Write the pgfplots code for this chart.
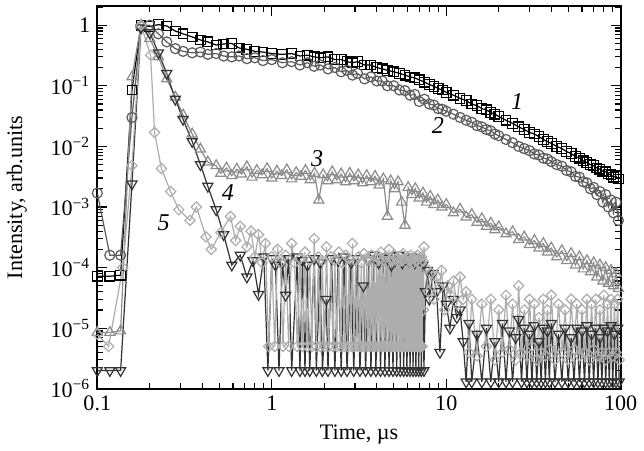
\documentclass[border=0pt]{standalone}
\usepackage{fontspec}
\setmainfont{Liberation Serif}
\usepackage{pgfplots}
\usepackage{pgfplotstable}
\pgfplotsset{compat=1.18}

\definecolor{cA}{gray}{0.0}
\definecolor{cB}{gray}{0.36}
\definecolor{cC}{gray}{0.55}
\definecolor{cD}{gray}{0.2}
\definecolor{cE}{gray}{0.68}

% curve 1 (squares)
\pgfplotstableread{
x y
0.100 7.2e-5
0.118 7.2e-5
0.136 7.5e-5
0.158 0.085
0.178 1.0
0.200 0.95
0.224 1.02
0.250 0.97
0.280 0.80
0.310 0.72
0.350 0.64
0.390 0.57
0.430 0.53
0.480 0.47
0.530 0.49
0.590 0.50
0.650 0.42
0.720 0.40
0.800 0.37
0.890 0.36
1.00 0.34
1.15 0.33
1.30 0.34
1.45 0.31
1.60 0.32
1.75 0.30
1.90 0.29
2.10 0.30
2.30 0.27
2.50 0.27
2.70 0.25
2.90 0.24
3.10 0.25
3.40 0.22
3.70 0.22
4.00 0.20
4.30 0.19
4.60 0.18
5.00 0.17
5.40 0.16
5.80 0.15
6.20 0.14
6.60 0.135
7.00 0.125
7.50 0.115
8.00 0.105
8.50 0.098
9.00 0.090
9.50 0.085
10 0.078
11 0.070
12 0.062
13 0.057
14 0.050
15 0.047
16 0.042
17 0.040
18 0.036
19 0.034
20 0.031
22 0.027
24 0.024
26 0.021
28 0.019
30 0.017
32 0.016
34 0.0145
36 0.013
38 0.012
40 0.0112
43 0.0100
46 0.0092
49 0.0082
52 0.0076
55 0.0068
58 0.0064
61 0.0058
64 0.0054
67 0.0050
70 0.0048
73 0.0044
76 0.0042
79 0.0039
82 0.0038
85 0.0035
88 0.0034
91 0.0031
94 0.0032
97 0.0029
}\dataA

% curve 2 (circles)
\pgfplotstableread{
x y
0.100 1.7e-3
0.118 1.6e-4
0.136 1.6e-4
0.158 0.03
0.178 0.95
0.200 1.0
0.224 0.72
0.250 0.53
0.280 0.41
0.310 0.37
0.350 0.35
0.390 0.36
0.430 0.33
0.480 0.34
0.530 0.31
0.590 0.30
0.650 0.31
0.720 0.28
0.800 0.29
0.890 0.26
1.00 0.27
1.15 0.24
1.30 0.25
1.45 0.22
1.60 0.24
1.75 0.21
1.90 0.22
2.10 0.19
2.30 0.20
2.50 0.17
2.70 0.18
2.90 0.15
3.10 0.16
3.40 0.13
3.70 0.14
4.00 0.12
4.30 0.12
4.60 0.10
5.00 0.10
5.40 0.085
5.80 0.083
6.20 0.07
6.60 0.072
7.00 0.055
7.50 0.06
8.00 0.05
8.50 0.048
9.00 0.042
9.50 0.041
10 0.038
11 0.034
12 0.030
13 0.027
14 0.025
15 0.022
16 0.021
17 0.019
18 0.018
19 0.016
20 0.015
22 0.013
24 0.0115
26 0.010
28 0.0092
30 0.0085
32 0.0075
34 0.0072
36 0.0064
38 0.0062
40 0.0056
43 0.0050
46 0.0047
49 0.0040
52 0.0038
55 0.0032
58 0.0031
61 0.0026
64 0.0025
67 0.0020
70 0.0021
73 0.0016
76 0.0018
79 0.0012
82 0.0016
85 0.0010
88 0.0013
91 0.0008
94 0.0012
97 0.0006
}\dataB

% curve 3 (triangles up)
\pgfplotstableread{
x y
0.100 8.5e-6
0.118 8.5e-6
0.136 9e-6
0.158 0.14
0.178 1.0
0.200 0.6
0.224 0.3
0.250 0.13
0.280 0.065
0.310 0.033
0.350 0.016
0.390 0.009
0.430 0.0055
0.48 0.0048
0.51 0.0036
0.55 0.0044
0.59 0.0033
0.63 0.0042
0.67 0.0035
0.72 0.0046
0.77 0.0031
0.82 0.0040
0.88 0.0034
0.94 0.0043
1.00 0.0030
1.07 0.0039
1.14 0.0033
1.22 0.0041
1.30 0.0029
1.38 0.0037
1.47 0.0032
1.56 0.0040
1.66 0.0028
1.76 0.0036
1.86 0.0013
1.97 0.0034
2.09 0.0027
2.22 0.0038
2.35 0.0028
2.50 0.0035
2.65 0.0026
2.80 0.0036
2.96 0.0027
3.13 0.0034
3.31 0.0025
3.50 0.0033
3.70 0.0026
3.91 0.0032
4.13 0.0023
4.36 0.0029
4.60 0.0007
4.80 0.0027
5.05 0.0020
5.30 0.0026
5.55 0.0012
5.80 0.0005
6.05 0.0021
6.35 0.0016
6.65 0.0020
7.00 0.0014
7.35 0.0017
7.70 0.0012
8.10 0.0015
8.50 0.0011
8.95 0.0013
9.45 0.0010
10 0.0011
11 0.0008
12 0.00092
13 0.00068
14 0.00075
15 0.00056
16 0.00064
17 0.00048
18 0.00054
19 0.00042
20 0.00047
22 0.00036
24 0.00039
26 0.00029
28 0.00032
30 0.00024
32 0.00028
34 0.00021
36 0.00025
38 0.00018
40 0.00021
43 0.00015
46 0.00019
49 0.00013
52 0.00017
55 0.00011
58 0.00015
61 0.000095
64 0.00013
67 0.000085
70 0.00012
73 0.00007
76 0.00011
79 0.00006
82 0.0001
85 0.000055
88 0.00009
91 0.00005
94 0.00008
97 0.000045
}\dataC

% curve 4 (triangles down)
\pgfplotstableread{
x y
0.100 2e-6
0.118 2e-6
0.136 2e-6
0.158 2.4e-3
0.178 0.9
0.200 0.75
0.224 0.35
0.250 0.16
0.280 0.06
0.310 0.028
0.350 0.012
0.390 0.005
0.430 0.0022
0.480 0.0009
0.530 0.00035
0.590 0.00011
0.660 0.00016
0.720 0.00007
0.780 0.00013
0.840 0.000036
0.900 0.00015
0.950 2e-6
1.00 0.00014
1.05 0.00011
1.10 2e-6
1.15 0.00012
1.20 0.000035
1.25 0.00014
1.30 2e-6
1.40 0.00015
1.45 2e-6
1.50 0.00013
1.55 2e-6
1.60 0.00011
1.65 2e-6
1.75 0.00014
1.80 2e-6
1.90 0.00012
1.95 2e-6
2.05 0.00003
2.10 2e-6
2.20 0.00014
2.30 2e-6
2.40 0.00013
2.50 2e-6
2.60 0.00015
2.70 2e-6
2.85 0.00012
2.95 2e-6
3.10 0.00014
3.20 2e-6
3.35 0.00005
3.45 2e-6
3.60 0.00013
3.70 2e-6
3.85 0.00016
3.95 2e-6
4.10 0.00012
4.20 2e-6
4.35 0.00014
4.45 2e-6
4.60 0.00015
4.70 2e-6
4.85 0.00011
4.95 2e-6
5.10 0.00013
5.20 2e-6
5.35 0.00016
5.45 2e-6
5.60 0.00012
5.70 2e-6
5.85 0.00014
5.95 2e-6
6.10 0.00013
6.20 2e-6
6.35 0.00015
6.45 2e-6
6.60 0.00012
6.70 2e-6
6.85 0.00014
6.95 2e-6
7.10 0.00013
7.20 2e-6
7.35 0.00011
7.45 2e-6
7.60 0.00004
7.80 0.00009
8.00 0.00003
8.40 0.00008
8.80 0.00004
9.20 0.000004
9.60 0.00005
10.0 0.000025
10.5 0.00001
11.0 0.00003
11.5 0.000015
12.0 0.00002
12.5 0.000006
13.0 1.3e-6
13.5 0.000012
14 1.3e-6
15 0.000008
16 1.3e-6
17 0.00001
18 1.3e-6
19 0.000006
20 1.3e-6
21 0.000012
22 1.3e-6
23 0.000009
24 1.3e-6
25 0.000007
26 0.000014
27 1.3e-6
28 0.00001
29 1.3e-6
30 0.000008
31 1.3e-6
32 0.000011
33 1.3e-6
34 0.000006
35 1.3e-6
36 0.00001
37 1.3e-6
38 0.000009
39 1.3e-6
40 0.000012
42 1.3e-6
44 0.000008
46 1.3e-6
48 0.00001
50 1.3e-6
52 0.000007
54 1.3e-6
56 0.00001
58 1.3e-6
60 0.000009
62 1.3e-6
64 0.000011
66 1.3e-6
68 0.000008
70 1.3e-6
72 0.00001
74 1.3e-6
76 0.000007
78 1.3e-6
80 0.00001
82 1.3e-6
84 0.000009
86 1.3e-6
88 0.000011
90 1.3e-6
92 0.000008
94 1.3e-6
96 0.00001
98 1.3e-6
}\dataD

% curve 5 (diamonds)
\pgfplotstableread{
x y
0.100 8e-6
0.116 5e-6
0.140 1e-4
0.158 4.8e-3
0.178 1.0
0.202 0.32
0.213 0.017
0.233 0.0043
0.263 0.0018
0.293 0.0009
0.34 0.0006
0.37 0.001
0.42 0.00032
0.45 0.0002
0.51 0.00038
0.58 0.0007
0.62 0.00028
0.66 0.00048
0.72 0.00022
0.76 0.0004
0.80 0.00015
0.84 0.00035
0.88 0.00012
0.92 0.00025
0.96 5e-6
1.00 0.00015
1.04 5e-6
1.08 0.0002
1.12 0.00012
1.16 5e-6
1.20 0.00016
1.25 5e-6
1.30 0.00025
1.35 0.00012
1.40 5e-6
1.45 0.00014
1.50 5e-6
1.55 0.00018
1.60 5e-6
1.65 0.00013
1.70 5e-6
1.75 0.0003
1.80 5e-6
1.85 0.00015
1.90 5e-6
1.95 0.00013
2.00 5e-6
2.06 0.00022
2.12 5e-6
2.18 0.00015
2.24 5e-6
2.30 0.00013
2.36 5e-6
2.42 0.00018
2.48 5e-6
2.54 0.00012
2.60 5e-6
2.66 0.00016
2.72 5e-6
2.78 0.00014
2.84 5e-6
2.90 0.00025
2.96 5e-6
3.02 0.00013
3.08 5e-6
3.14 0.00015
3.20 5e-6
3.26 0.00012
3.32 5e-6
3.38 0.00017
3.44 5e-6
3.50 0.00014
3.56 5e-6
3.62 0.00013
3.68 5e-6
3.74 0.00016
3.80 5e-6
3.86 0.00012
3.92 5e-6
3.98 0.00015
4.04 5e-6
4.10 0.00014
4.16 5e-6
4.22 0.00018
4.28 5e-6
4.34 0.00013
4.40 5e-6
4.46 0.00015
4.52 5e-6
4.58 0.00012
4.64 5e-6
4.70 0.0002
4.76 5e-6
4.82 0.00014
4.88 5e-6
4.94 0.00013
5.00 5e-6
5.06 0.00016
5.12 5e-6
5.18 0.00014
5.24 5e-6
5.30 0.00012
5.36 5e-6
5.42 0.00015
5.48 5e-6
5.54 0.00013
5.60 5e-6
5.66 0.00017
5.72 5e-6
5.78 0.00014
5.84 5e-6
5.90 0.00012
5.96 5e-6
6.02 0.00015
6.08 5e-6
6.14 0.00013
6.20 5e-6
6.26 0.00016
6.32 5e-6
6.38 0.00014
6.44 5e-6
6.50 0.00012
6.56 5e-6
6.62 0.00015
6.68 5e-6
6.74 0.00013
6.80 5e-6
6.86 0.00016
6.92 5e-6
6.98 0.00014
7.04 5e-6
7.10 0.00012
7.16 5e-6
7.22 0.00015
7.28 5e-6
7.34 0.00013
7.40 0.00002
7.46 0.00022
7.60 0.0001
7.90 0.00004
8.20 0.00008
8.50 0.00003
8.80 0.00007
9.10 0.000045
9.40 0.00009
9.80 0.00002
10.2 0.00005
10.6 0.000035
11.0 0.00006
11.5 0.000025
12.0 0.00007
12.5 0.00003
13.0 0.00004
13.5 4e-6
14 3e-5
15 3.5e-6
16 2.5e-5
17 5e-6
18 3e-5
19 3e-6
20 2e-5
21 4e-6
22 3.5e-5
23 4.5e-6
24 2.5e-5
25 3e-6
26 5e-5
27 4e-6
28 2e-5
29 3.5e-6
30 3e-5
31 5e-6
32 2.5e-5
33 3e-6
34 1.5e-5
35 4e-6
36 3e-5
37 3.5e-6
38 2e-5
39 4.5e-6
40 3.5e-5
42 3e-6
44 2.5e-5
46 4e-6
48 2e-5
50 3e-6
52 3e-5
54 4.5e-6
56 2.5e-5
58 3.5e-6
60 2e-5
62 4e-6
64 3e-5
66 3e-6
68 2.5e-5
70 4.5e-6
72 3e-5
74 3.5e-6
76 2e-5
78 4e-6
80 3.5e-5
82 3e-6
84 2.5e-5
86 4e-6
88 3e-5
90 3.5e-6
92 2.5e-5
94 4e-6
96 3e-5
98 3e-6
}\dataE

\begin{document}
\begin{tikzpicture}
\begin{axis}[
    name=ax,
    scale only axis,
    width=260.5pt, height=190.5pt,
    xmode=log, ymode=log,
    xmin=0.1, xmax=100,
    ymin=1e-6, ymax=2.07,
    xtick={0.1,1,10,100},
    xticklabels={0.1,1,10,100},
    minor xtick={0.2,0.3,0.4,0.5,0.6,0.7,0.8,0.9,2,3,4,5,6,7,8,9,20,30,40,50,60,70,80,90},
    ytick={1e-6,1e-5,1e-4,1e-3,1e-2,1e-1,1},
    yticklabels={10\textsuperscript{−6},10\textsuperscript{−5},10\textsuperscript{−4},10\textsuperscript{−3},10\textsuperscript{−2},10\textsuperscript{−1},1},
    minor ytick={2e-6,3e-6,4e-6,5e-6,6e-6,7e-6,8e-6,9e-6,
                 2e-5,3e-5,4e-5,5e-5,6e-5,7e-5,8e-5,9e-5,
                 2e-4,3e-4,4e-4,5e-4,6e-4,7e-4,8e-4,9e-4,
                 2e-3,3e-3,4e-3,5e-3,6e-3,7e-3,8e-3,9e-3,
                 0.02,0.03,0.04,0.05,0.06,0.07,0.08,0.09,
                 0.2,0.3,0.4,0.5,0.6,0.7,0.8,0.9,2},
    tick align=inside,
    major tick length=5pt, minor tick length=3pt,
    every tick/.style={black, line width=0.6pt},
    axis line style={line width=1pt},
    tick label style={font=\fontsize{11}{13}\selectfont},
    label style={font=\fontsize{11}{13}\selectfont},
    xlabel={Time, µs},
    ylabel={Intensity, arb.units},
    ylabel style={yshift=5pt},
    every axis plot/.append style={line width=0.6pt},
]
\addplot[cA, mark=square, mark size=2.4pt, mark options={fill=white, solid}] table {\dataA};
\addplot[cB, mark=o, mark size=2.5pt, mark options={fill=white, solid}] table {\dataB};
\addplot[cC, mark=triangle, mark size=2.9pt, mark options={fill=white, solid}] table {\dataC};
\addplot[cD, mark=triangle, mark size=2.9pt, mark options={fill=white, solid, rotate=180}] table {\dataD};
\addplot[cE, mark=square, mark size=1.8pt, mark options={fill=white, solid, rotate=45}] table {\dataE};

\node[font=\fontsize{12}{14}\selectfont\itshape] at (axis cs:25.5,0.055) {1};
\node[font=\fontsize{12}{14}\selectfont\itshape] at (axis cs:8.95,0.022) {2};
\node[font=\fontsize{12}{14}\selectfont\itshape] at (axis cs:1.82,0.0062) {3};
\node[font=\fontsize{12}{14}\selectfont\itshape] at (axis cs:0.56,0.0017) {4};
\node[font=\fontsize{12}{14}\selectfont\itshape] at (axis cs:0.24,0.00054) {5};
\end{axis}
\path ([yshift=3pt]ax.north);
\end{tikzpicture}
\end{document}
